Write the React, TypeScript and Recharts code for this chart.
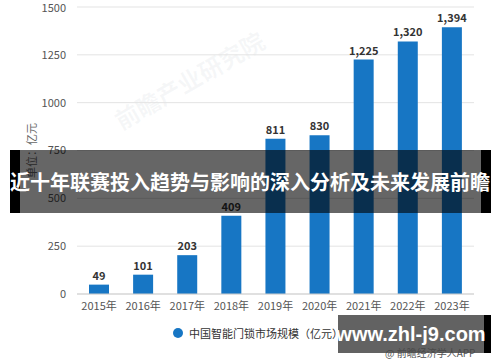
import React from 'react';
import { BarChart, Bar, XAxis, YAxis, CartesianGrid, LabelList } from 'recharts';

const years = ['2015年', '2016年', '2017年', '2018年', '2019年', '2020年', '2021年', '2022年', '2023年'];
const marketSize = [49, 101, 203, 409, 811, 830, 1225, 1320, 1394];
const yTicks = [0, 250, 500, 750, 1000, 1250, 1500];

const seriesName = '中国智能门锁市场规模（亿元）';
const bannerTitle = '近十年联赛投入趋势与影响的深入分析及未来发展前瞻';
const siteMark = 'www.zhl-j9.com';
const sourceNote = '@ 前瞻经济学人APP';

const BLUE = '#1776c4';
const FONT = '"Noto Sans CJK SC", "Noto Sans", sans-serif';

const chartData = years.map((y, i) => ({ year: y, value: marketSize[i] }));

const fmt = (v: number) => v.toLocaleString('en-US');

const UnitLabel = (props: any) => {
    const { viewBox } = props;
    const x = viewBox.x + 14;
    const y = viewBox.y + viewBox.height / 2;
    return (
        <text x={x} y={y} transform={`rotate(-90, ${x}, ${y})`} textAnchor="middle" dominantBaseline="central"
            fontSize={11} fill="#666" fontFamily={FONT}>
            单位：亿元
        </text>
    );
};

const App: React.FC = () => {
    return (
        <div style={{ position: 'absolute', left: 0, top: 0, width: 500, height: 362, background: '#fff', fontFamily: FONT, overflow: 'hidden' }}>
            {/* faint watermark behind the chart */}
            <div style={{ position: 'absolute', left: 105, top: 62, transform: 'rotate(-30deg)', fontSize: 24, fontWeight: 700, color: 'rgba(150,160,175,0.09)', whiteSpace: 'nowrap' }}>
                前瞻产业研究院
            </div>

            <BarChart width={500} height={362} data={chartData} margin={{ top: 7, right: 26, left: 17, bottom: 44 }}>
                <CartesianGrid vertical={false} stroke="#e3e3e3" />
                <XAxis dataKey="year" height={24} tickLine={false} axisLine={{ stroke: '#cfcfcf' }} tickSize={0} tickMargin={8}
                    tick={{ fontSize: 11, fill: '#555', fontFamily: FONT }} interval={0} />
                <YAxis width={60} domain={[0, 1500]} ticks={yTicks} tickLine={false} axisLine={false} tickSize={0} tickMargin={11}
                    tick={{ fontSize: 11, fill: '#555', fontFamily: FONT }} label={<UnitLabel />} />
                <Bar dataKey="value" fill={BLUE} barSize={20} isAnimationActive={false}>
                    <LabelList dataKey="value" position="top" offset={5} formatter={(v: any) => fmt(Number(v))}
                        style={{ fontSize: 11, fontWeight: 700, fill: '#333', fontFamily: FONT }} />
                </Bar>
            </BarChart>

            {/* legend */}
            <div style={{ position: 'absolute', left: 173, top: 325, display: 'flex', alignItems: 'center', fontSize: 11, color: '#333' }}>
                <span style={{ width: 10, height: 10, borderRadius: '50%', background: BLUE, display: 'inline-block', marginRight: 6 }} />
                {seriesName}
            </div>

            {/* title banner */}
            <div style={{ position: 'absolute', left: 10, top: 150, width: 481, height: 63, background: 'rgba(0,0,0,0.6)' }} />
            <div style={{ position: 'absolute', left: 10, top: 150, width: 10, height: 63, background: '#000' }} />
            <div style={{ position: 'absolute', left: 481, top: 150, width: 10, height: 63, background: '#000' }} />
            <div style={{ position: 'absolute', left: 0, top: 150, width: 500, height: 63, display: 'flex', alignItems: 'center', justifyContent: 'center', color: '#fff', fontSize: 20, fontWeight: 700, whiteSpace: 'nowrap' }}>
                {bannerTitle}
            </div>

            {/* site mark */}
            <div style={{ position: 'absolute', left: 385, top: 345, fontSize: 10, color: '#555', whiteSpace: 'nowrap' }}>
                {sourceNote}
            </div>
            <div style={{ position: 'absolute', left: 338, top: 315, width: 146, height: 38, background: 'rgba(70,70,70,0.85)' }} />
            <div style={{ position: 'absolute', left: 484, top: 315, width: 7, height: 38, background: '#000' }} />
            <div style={{ position: 'absolute', left: 338, top: 315, width: 146, height: 38, display: 'flex', alignItems: 'center', justifyContent: 'center', color: '#fff', fontSize: 20, fontWeight: 700, fontFamily: '"Liberation Sans", Arial, sans-serif', whiteSpace: 'nowrap' }}>
                {siteMark}
            </div>
        </div>
    );
};

export default App;
